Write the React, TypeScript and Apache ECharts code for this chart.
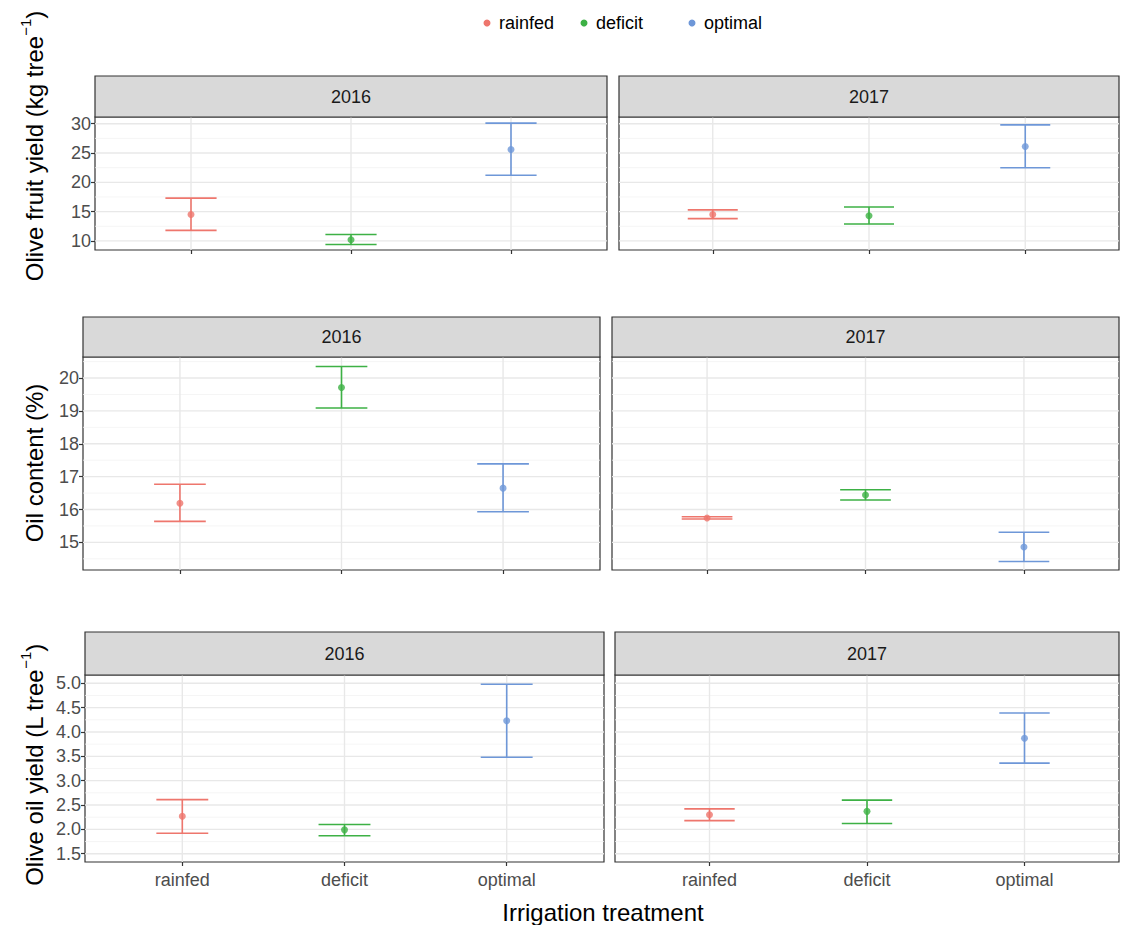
import React, { useEffect, useRef } from "react";
import * as echarts from "echarts";

const treatments = ["rainfed", "deficit", "optimal"];
const years = ["2016", "2017"];
const colors = ["#EE766D", "#3DB145", "#6E97D8"];

// [mean, low, high] per treatment
const fruit2016 = [[14.5, 11.8, 17.3], [10.2, 9.4, 11.1], [25.6, 21.2, 30.1]];
const fruit2017 = [[14.5, 13.8, 15.3], [14.3, 12.9, 15.8], [26.1, 22.5, 29.8]];
const oil2016 = [[16.19, 15.64, 16.77], [19.71, 19.09, 20.35], [16.65, 15.93, 17.39]];
const oil2017 = [[15.74, 15.71, 15.78], [16.44, 16.29, 16.6], [14.86, 14.42, 15.31]];
const oy2016 = [[2.27, 1.92, 2.61], [1.99, 1.87, 2.1], [4.23, 3.48, 4.98]];
const oy2017 = [[2.3, 2.18, 2.42], [2.37, 2.12, 2.6], [3.87, 3.36, 4.39]];

const fruitTicks = [10, 15, 20, 25, 30];
const fruitMinor = [12.5, 17.5, 22.5, 27.5];
const oilTicks = [15, 16, 17, 18, 19, 20];
const oilMinor = [14.5, 15.5, 16.5, 17.5, 18.5, 19.5, 20.5];
const oyTicks = [1.5, 2.0, 2.5, 3.0, 3.5, 4.0, 4.5, 5.0];
const oyMinor = [1.75, 2.25, 2.75, 3.25, 3.75, 4.25, 4.75];

const rows = [
  { data: [fruit2016, fruit2017], ticks: fruitTicks, minor: fruitMinor, min: 8.45, max: 31.15, dec: 0,
    stripTop: 76, top: 117, bottom: 250, left: 95, mid: [607, 619] },
  { data: [oil2016, oil2017], ticks: oilTicks, minor: oilMinor, min: 14.16, max: 20.64, dec: 0,
    stripTop: 317, top: 357, bottom: 570, left: 83, mid: [600, 612] },
  { data: [oy2016, oy2017], ticks: oyTicks, minor: oyMinor, min: 1.33, max: 5.17, dec: 1,
    stripTop: 632, top: 675, bottom: 862, left: 85, mid: [604, 615] },
];
const RIGHT = 1119;
const W = 1121, H = 925;
const FONT = "Liberation Sans";

export default function App() {
  const ref = useRef<HTMLDivElement>(null);
  useEffect(() => {
    const chart = echarts.init(ref.current!, null, { renderer: "svg" });
    const grid: any[] = [], xAxis: any[] = [], yAxis: any[] = [], series: any[] = [], graphic: any[] = [];
    let gi = 0;
    rows.forEach((r, ri) => {
      for (let c = 0; c < 2; c++) {
        const l = c === 0 ? r.left : r.mid[1];
        const rt = c === 0 ? r.mid[0] : RIGHT;
        grid.push({ left: l, width: rt - l, top: r.top, height: r.bottom - r.top, show: true,
          borderColor: "#333", borderWidth: 1.2, backgroundColor: "#fff", z: 0 });
        xAxis.push({ gridIndex: gi, type: "value", min: 0.4, max: 3.6,
          axisLine: { show: false }, splitLine: { show: false },
          axisTick: { show: true, customValues: [1, 2, 3], length: 4, lineStyle: { color: "#333", width: 1.2 } },
          axisLabel: { show: ri === 2, customValues: [1, 2, 3], formatter: (v: number) => treatments[Math.round(v) - 1],
            color: "#4d4d4d", fontSize: 18, margin: 9, fontFamily: FONT } });
        yAxis.push({ gridIndex: gi, type: "value", min: r.min, max: r.max,
          axisLine: { show: false }, splitLine: { show: false },
          axisTick: { show: c === 0, customValues: r.ticks, length: 4, lineStyle: { color: "#333", width: 1.2 } },
          axisLabel: { show: c === 0, customValues: r.ticks, formatter: (v: number) => v.toFixed(r.dec),
            color: "#4d4d4d", fontSize: 18, margin: 4, fontFamily: FONT } });
        const lines: any[] = [];
        r.minor.forEach((v) => lines.push([0, v]));
        r.ticks.forEach((v) => lines.push([1, v]));
        [1, 2, 3].forEach((v) => lines.push([2, v]));
        series.push({ type: "custom", xAxisIndex: gi, yAxisIndex: gi, silent: true, z: 1, data: lines,
          renderItem: (p: any, api: any) => {
            const k = api.value(0), v = api.value(1);
            const cs = p.coordSys;
            if (k < 2) {
              const y = api.coord([1, v])[1];
              return { type: "line", shape: { x1: cs.x, y1: y, x2: cs.x + cs.width, y2: y },
                style: { stroke: k === 0 ? "#f3f3f3" : "#e8e8e8", lineWidth: k === 0 ? 0.8 : 1.4 } };
            }
            const x = api.coord([v, r.min])[0];
            return { type: "line", shape: { x1: x, y1: cs.y, x2: x, y2: cs.y + cs.height },
              style: { stroke: "#e8e8e8", lineWidth: 1.4 } };
          } });
        const d = r.data[c];
        series.push({ type: "custom", xAxisIndex: gi, yAxisIndex: gi, z: 3,
          data: d.map((m, i) => [i + 1, m[1], m[2]]),
          renderItem: (p: any, api: any) => {
            const x = api.value(0);
            const lo = api.coord([x, api.value(1)]);
            const hi = api.coord([x, api.value(2)]);
            const xl = api.coord([x - 0.16, 0])[0], xr = api.coord([x + 0.16, 0])[0];
            const st = { stroke: colors[p.dataIndex], lineWidth: 1.6 };
            return { type: "group", children: [
              { type: "line", shape: { x1: lo[0], y1: lo[1], x2: hi[0], y2: hi[1] }, style: st },
              { type: "line", shape: { x1: xl, y1: lo[1], x2: xr, y2: lo[1] }, style: st },
              { type: "line", shape: { x1: xl, y1: hi[1], x2: xr, y2: hi[1] }, style: st },
            ] };
          } });
        series.push({ type: "scatter", xAxisIndex: gi, yAxisIndex: gi, z: 4, symbolSize: 7,
          data: d.map((m, i) => ({ value: [i + 1, m[0]], itemStyle: { color: colors[i] } })) });
        graphic.push({ type: "rect", shape: { x: l, y: r.stripTop, width: rt - l, height: r.top - r.stripTop },
          style: { fill: "#d9d9d9", stroke: "#333", lineWidth: 1.2 }, z: 10 });
        graphic.push({ type: "text", x: (l + rt) / 2, y: (r.stripTop + r.top) / 2,
          style: { text: years[c], fill: "#1a1a1a", fontSize: 18, fontFamily: FONT, align: "center", verticalAlign: "middle" }, z: 11 });
        gi++;
      }
    });
    const ytitle = (parts: any, cy: number) => ({
      type: "text", x: 32, y: cy, rotation: Math.PI / 2, z: 11,
      style: { text: parts, align: "center", verticalAlign: "middle", fontFamily: FONT,
        rich: { a: { fontSize: 24, fill: "#000", fontFamily: FONT, lineHeight: 28, verticalAlign: "bottom" },
                s: { fontSize: 15, fill: "#000", fontFamily: FONT, lineHeight: 28, verticalAlign: "top", padding: [0, 0, 8, 0] } } },
    });
    graphic.push(ytitle("{a|Olive fruit yield (kg tree}{s|−1}{a|)}", 146));
    graphic.push(ytitle("{a|Oil content (%)}", 463));
    graphic.push(ytitle("{a|Olive oil yield (L tree}{s|−1}{a|)}", 765));
    graphic.push({ type: "text", x: 603, y: 912, z: 11,
      style: { text: "Irrigation treatment", fontSize: 24, fill: "#000", fontFamily: FONT, align: "center", verticalAlign: "middle" } });
    const lx = [487, 584, 692];
    treatments.forEach((t, i) => {
      graphic.push({ type: "circle", shape: { cx: lx[i], cy: 23, r: 3.5 }, style: { fill: colors[i] }, z: 11 });
      graphic.push({ type: "text", x: lx[i] + 12, y: 23, z: 11,
        style: { text: t, fontSize: 18, fill: "#000", fontFamily: FONT, verticalAlign: "middle" } });
    });
    chart.setOption({ animation: false, backgroundColor: "#fff", grid, xAxis, yAxis, series, graphic });
    return () => chart.dispose();
  }, []);
  return <div ref={ref} style={{ position: "fixed", left: 0, top: 0, width: W, height: H }} />;
}
